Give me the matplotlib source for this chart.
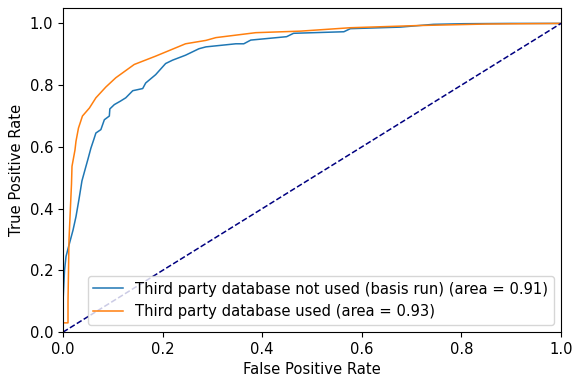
import matplotlib
matplotlib.use("Agg")
import matplotlib.pyplot as plt

# Blue: third party database not used (basis run)
fpr_not_used = [0.0, 0.0, 0.003, 0.006, 0.010, 0.015, 0.020, 0.026, 0.032, 0.038, 0.045, 0.050, 0.056,
                0.062, 0.066, 0.076, 0.083, 0.093, 0.094, 0.103, 0.115, 0.126, 0.140, 0.160, 0.166,
                0.186, 0.206, 0.220, 0.246, 0.273, 0.287, 0.347, 0.363, 0.377, 0.449, 0.463,
                0.564, 0.577, 0.677, 0.744, 0.804, 0.90, 1.0]
tpr_not_used = [0.0, 0.10, 0.20, 0.245, 0.27, 0.30, 0.33, 0.374, 0.43, 0.49, 0.531, 0.56, 0.596,
                0.625, 0.645, 0.656, 0.688, 0.700, 0.723, 0.737, 0.748, 0.759, 0.782, 0.789, 0.807,
                0.834, 0.870, 0.881, 0.897, 0.918, 0.924, 0.934, 0.934, 0.946, 0.957, 0.968,
                0.973, 0.983, 0.988, 0.997, 0.999, 1.0, 1.0]

# Orange: third party database used
fpr_used = [0.0, 0.0, 0.010, 0.010, 0.012, 0.017, 0.018, 0.024, 0.026, 0.031, 0.039, 0.053, 0.066,
            0.086, 0.106, 0.143, 0.186, 0.246, 0.287, 0.307, 0.387, 0.477, 0.577, 0.711, 0.85, 1.0]
tpr_used = [0.0, 0.03, 0.03, 0.10, 0.30, 0.48, 0.537, 0.59, 0.618, 0.661, 0.700, 0.726, 0.759,
            0.794, 0.824, 0.867, 0.894, 0.934, 0.945, 0.954, 0.970, 0.975, 0.986, 0.993, 0.998, 1.0]

label_not_used = "Third party database not used (basis run) (area = 0.91)"
label_used = "Third party database used (area = 0.93)"

plt.rcParams["font.size"] = 10.6

fig = plt.figure(figsize=(5.73, 3.8), dpi=100)
ax = fig.add_axes([0.110, 0.126, 0.869, 0.853])
ax.plot(fpr_not_used, tpr_not_used, color="#1f77b4", lw=1.1, label=label_not_used)
ax.plot(fpr_used, tpr_used, color="#ff7f0e", lw=1.1, label=label_used)
ax.plot([0, 1], [0, 1], color="navy", lw=1.1, linestyle="--")
ax.set_xlim(0.0, 1.0)
ax.set_ylim(0.0, 1.05)
ax.set_xlabel("False Positive Rate")
ax.set_ylabel("True Positive Rate")
ax.legend(loc="lower right")
fig.savefig("out.png", dpi=100)
